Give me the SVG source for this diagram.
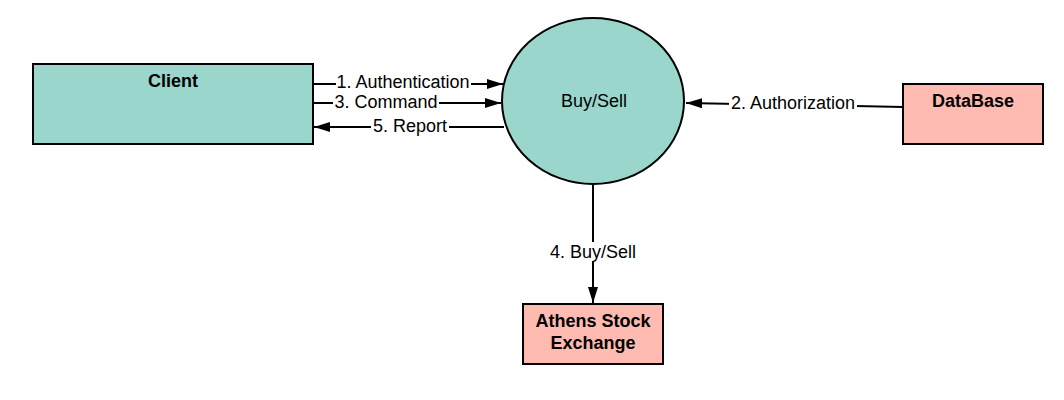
<svg xmlns="http://www.w3.org/2000/svg" width="1064" height="400" viewBox="0 0 1064 400">
<defs>
<marker id="ah" viewBox="0 0 16 12" refX="16" refY="6" markerWidth="16" markerHeight="12" markerUnits="userSpaceOnUse" orient="auto">
<path d="M0,1 L16,6 L0,11 z" fill="#000"/>
</marker>
<style>
.node{stroke:#000;stroke-width:2}
.teal{fill:#9ad6cb}
.pink{fill:#ffbbb1}
.lbl{font-family:"Liberation Sans",Arial,sans-serif;font-size:18px;fill:#000}
.bold{font-family:"Liberation Sans",Arial,sans-serif;font-size:18px;font-weight:bold;fill:#000}
.edge{stroke:#000;stroke-width:2;fill:none}
.bg{fill:#fff}
</style>
</defs>
<rect width="1064" height="400" fill="#fff"/>
<g id="client">
<rect class="node teal" x="33" y="64" width="280" height="80"/>
<text class="bold" x="173" y="87" text-anchor="middle">Client</text>
</g>
<g id="buysell">
<ellipse class="node teal" cx="593" cy="101" rx="91" ry="83"/>
<text class="lbl" x="594" y="107" text-anchor="middle">Buy/Sell</text>
</g>
<g id="database">
<rect class="node pink" x="903" y="84" width="140" height="60"/>
<text class="bold" x="973" y="107" text-anchor="middle">DataBase</text>
</g>
<g id="athens">
<rect class="node pink" x="523" y="304" width="140" height="60"/>
<text class="bold" x="593" y="327" text-anchor="middle">Athens Stock</text>
<text class="bold" x="593" y="349" text-anchor="middle">Exchange</text>
</g>
<g id="connectors">
<line class="edge" x1="313" y1="84" x2="503" y2="84" marker-end="url(#ah)"/>
<rect class="bg" x="336" y="73" width="135" height="19"/>
<text class="lbl" x="403" y="88" text-anchor="middle">1. Authentication</text>
<line class="edge" x1="313" y1="103" x2="501" y2="103" marker-end="url(#ah)"/>
<rect class="bg" x="333" y="92" width="106" height="19"/>
<text class="lbl" x="386" y="108" text-anchor="middle">3. Command</text>
<line class="edge" x1="504" y1="127" x2="314" y2="127" marker-end="url(#ah)"/>
<rect class="bg" x="371" y="116" width="78" height="19"/>
<text class="lbl" x="410" y="132" text-anchor="middle">5. Report</text>
<polyline class="edge" points="903,107 855,106 686,103" marker-end="url(#ah)"/>
<rect class="bg" x="729" y="94" width="128" height="19"/>
<text class="lbl" x="793" y="109" text-anchor="middle">2. Authorization</text>
<line class="edge" x1="593" y1="184" x2="593" y2="303" marker-end="url(#ah)"/>
<rect class="bg" x="547" y="242" width="92" height="19"/>
<text class="lbl" x="593" y="258" text-anchor="middle">4. Buy/Sell</text>
</g>
</svg>
